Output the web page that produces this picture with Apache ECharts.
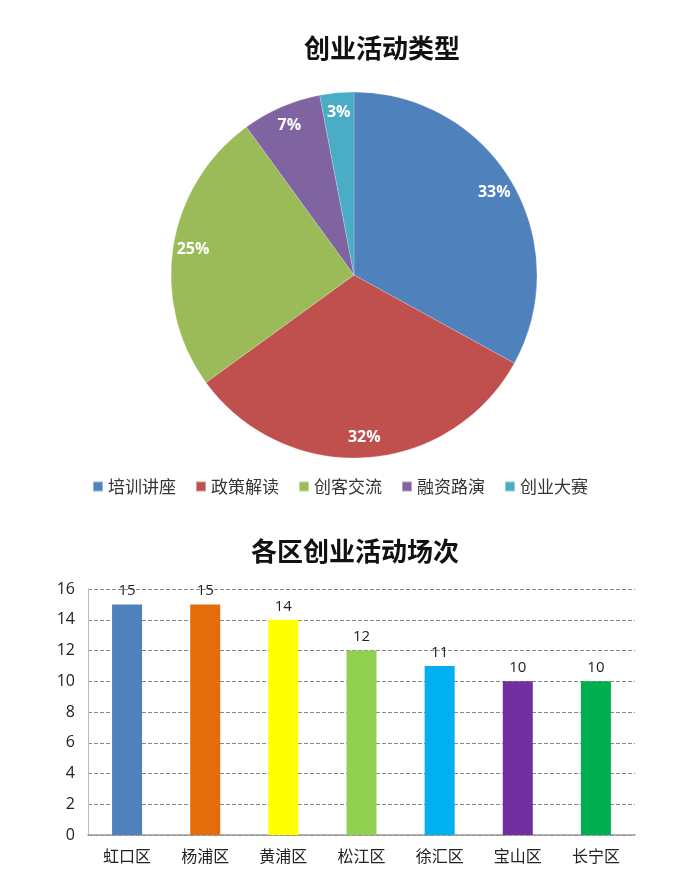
<!DOCTYPE html>
<html><head><meta charset="utf-8">
<script src="https://cdn.jsdelivr.net/npm/echarts@6/dist/echarts.min.js"></script>
<style>html,body{margin:0;padding:0;background:#fff}#c{width:692px;height:887px}</style>
</head><body><div id="c"></div>
<script>
const pieNames = ['培训讲座','政策解读','创客交流','融资路演','创业大赛'];
const pieValues = [33, 32, 25, 7, 3];
const pieColors = ['#4F81BD','#C0504D','#9BBB59','#8064A2','#4BACC6'];
const districts = ['虹口区','杨浦区','黄浦区','松江区','徐汇区','宝山区','长宁区'];
const counts = [15, 15, 14, 12, 11, 10, 10];
const barColors = ['#4F81BD','#E46C0A','#FFFF00','#92D050','#00B0F0','#7030A0','#00B050'];
const yTicks = [0, 2, 4, 6, 8, 10, 12, 14, 16];

const cjk = '"Noto Sans CJK SC", sans-serif';
const num = '"Open Sans", "Noto Sans", sans-serif';
const chart = echarts.init(document.getElementById('c'), null, {renderer:'canvas'});
const pieData = pieNames.map((n,i)=>({name:n, value:pieValues[i], itemStyle:{color:pieColors[i]}}));
chart.setOption({
  backgroundColor:'#fff',
  animation:false,
  title:[
    {text:'创业活动类型', left:377, top:30, textAlign:'center',
     textStyle:{fontFamily:cjk, fontSize:26, fontWeight:'bold', color:'#111'}},
    {text:'各区创业活动场次', left:350, top:533, textAlign:'center',
     textStyle:{fontFamily:cjk, fontSize:26, fontWeight:'bold', color:'#111'}}
  ],
  legend:{data:pieNames, left:92, top:478, padding:0, itemWidth:10, itemHeight:10, itemGap:19,
    icon:'rect', textStyle:{fontFamily:cjk, fontSize:17, color:'#333'}},
  grid:{left:88, right:57, top:589, bottom:52},
  xAxis:{type:'category', data:districts,
    axisLine:{lineStyle:{color:'#999', width:1.5}}, axisTick:{show:false},
    axisLabel:{fontFamily:cjk, fontSize:16, color:'#222', margin:13}},
  yAxis:{type:'value', min:0, max:16, interval:2,
    axisLine:{show:true, lineStyle:{color:'#bbb', width:1}}, axisTick:{show:false},
    axisLabel:{fontFamily:num, fontSize:16, color:'#222', margin:13,
      formatter:v=>yTicks.includes(v)?String(v):''},
    splitLine:{lineStyle:{color:'#888', type:'dashed', width:1}}},
  series:[
    {type:'pie', name:'types', center:[354,275], radius:183, startAngle:90, clockwise:true,
     data:pieData, label:{show:false}, labelLine:{show:false},
     itemStyle:{borderColor:'rgba(255,255,255,0.4)', borderWidth:0.5}, emphasis:{disabled:true}},
    {type:'pie', name:'labels', center:[354,275], radius:[137,183], startAngle:90, clockwise:true, silent:true,
     data:pieNames.map((n,i)=>({name:n, value:pieValues[i], itemStyle:{color:'rgba(0,0,0,0)'}})),
     label:{show:true, position:'inside', formatter:'{c}%', fontFamily:num, fontSize:16, fontWeight:'bold', color:'#fff'},
     labelLine:{show:false}, emphasis:{disabled:true}},
    {type:'bar', data:counts.map((v,i)=>({value:v, itemStyle:{color:barColors[i]}})), barWidth:30,
     label:{show:true, position:'top', fontFamily:num, fontSize:15, color:'#222', distance:6}}
  ]
});
</script></body></html>
